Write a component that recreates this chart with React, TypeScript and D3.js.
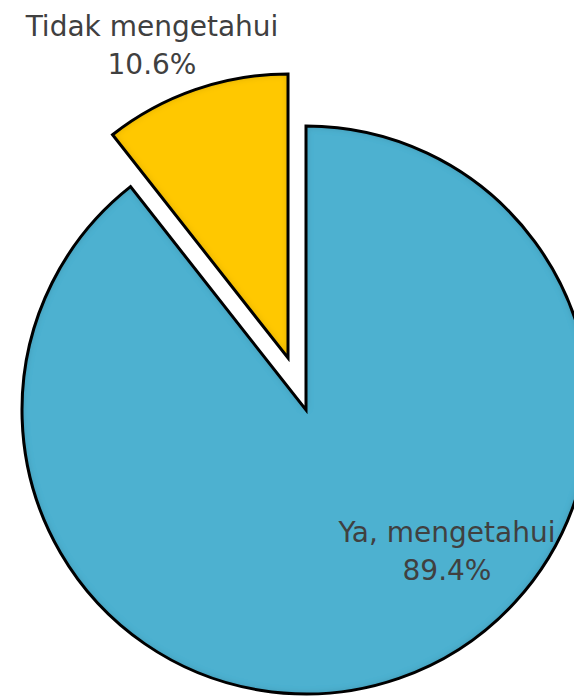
import React, { useEffect, useRef } from 'react';
import * as d3 from 'd3';

const labels = ['Ya, mengetahui', 'Tidak mengetahui'];
const values = [89.4, 10.6];
const colors = ['#4DB1D0', '#FFC800'];

const App: React.FC = () => {
  const svgRef = useRef<SVGSVGElement>(null);

  useEffect(() => {
    const svg = d3.select(svgRef.current);
    svg.selectAll('*').remove();

    const width = 574;
    const height = 697;
    const cx = 306;
    const cy = 410;
    const radius = 284;
    const explode = 55;

    svg.attr('width', width).attr('height', height);

    // inner shadow for the bevelled look
    const defs = svg.append('defs');
    const filter = defs.append('filter')
      .attr('id', 'bevel')
      .attr('x', '-5%').attr('y', '-5%')
      .attr('width', '110%').attr('height', '110%');
    filter.append('feGaussianBlur')
      .attr('in', 'SourceAlpha')
      .attr('stdDeviation', 3.5)
      .attr('result', 'blur');
    filter.append('feComposite')
      .attr('in', 'SourceAlpha')
      .attr('in2', 'blur')
      .attr('operator', 'arithmetic')
      .attr('k2', 1)
      .attr('k3', -1)
      .attr('result', 'edge');
    filter.append('feFlood')
      .attr('flood-color', '#000')
      .attr('flood-opacity', 0.4)
      .attr('result', 'flood');
    filter.append('feComposite')
      .attr('in', 'flood')
      .attr('in2', 'edge')
      .attr('operator', 'in')
      .attr('result', 'shadow');
    const merge = filter.append('feMerge');
    merge.append('feMergeNode').attr('in', 'SourceGraphic');
    merge.append('feMergeNode').attr('in', 'shadow');

    const data = labels.map((label, i) => ({ label, value: values[i], color: colors[i] }));

    const pie = d3.pie<any>()
      .value(d => d.value)
      .sort(null);

    const arc = d3.arc<any>()
      .innerRadius(0)
      .outerRadius(radius);

    const arcs = pie(data);

    const slices = svg.append('g')
      .attr('transform', `translate(${cx},${cy})`)
      .selectAll('g')
      .data(arcs)
      .enter()
      .append('g')
      .attr('transform', (d, i) => {
        if (i === 0) return null;
        const mid = (d.startAngle + d.endAngle) / 2;
        return `translate(${Math.sin(mid) * explode},${-Math.cos(mid) * explode})`;
      });

    slices.append('path')
      .attr('d', arc)
      .attr('fill', d => d.data.color)
      .attr('filter', 'url(#bevel)');

    slices.append('path')
      .attr('d', arc)
      .attr('fill', 'none')
      .attr('stroke', '#000')
      .attr('stroke-width', 3)
      .attr('stroke-linejoin', 'miter');

    // labels
    const labelPos = [
      { x: 447, y: 542 },
      { x: 152, y: 36 },
    ];

    data.forEach((d, i) => {
      const t = svg.append('text')
        .attr('x', labelPos[i].x)
        .attr('y', labelPos[i].y)
        .attr('text-anchor', 'middle')
        .attr('font-family', 'Tahoma, "DejaVu Sans", sans-serif')
        .attr('font-size', '28px')
        .attr('fill', '#404040');
      t.append('tspan')
        .attr('x', labelPos[i].x)
        .text(d.label);
      t.append('tspan')
        .attr('x', labelPos[i].x)
        .attr('dy', 38)
        .text(`${d.value.toFixed(1)}%`);
    });
  }, []);

  return (
    <svg
      ref={svgRef}
      style={{ position: 'absolute', left: 0, top: 0, display: 'block' }}
    ></svg>
  );
};

export default App;
